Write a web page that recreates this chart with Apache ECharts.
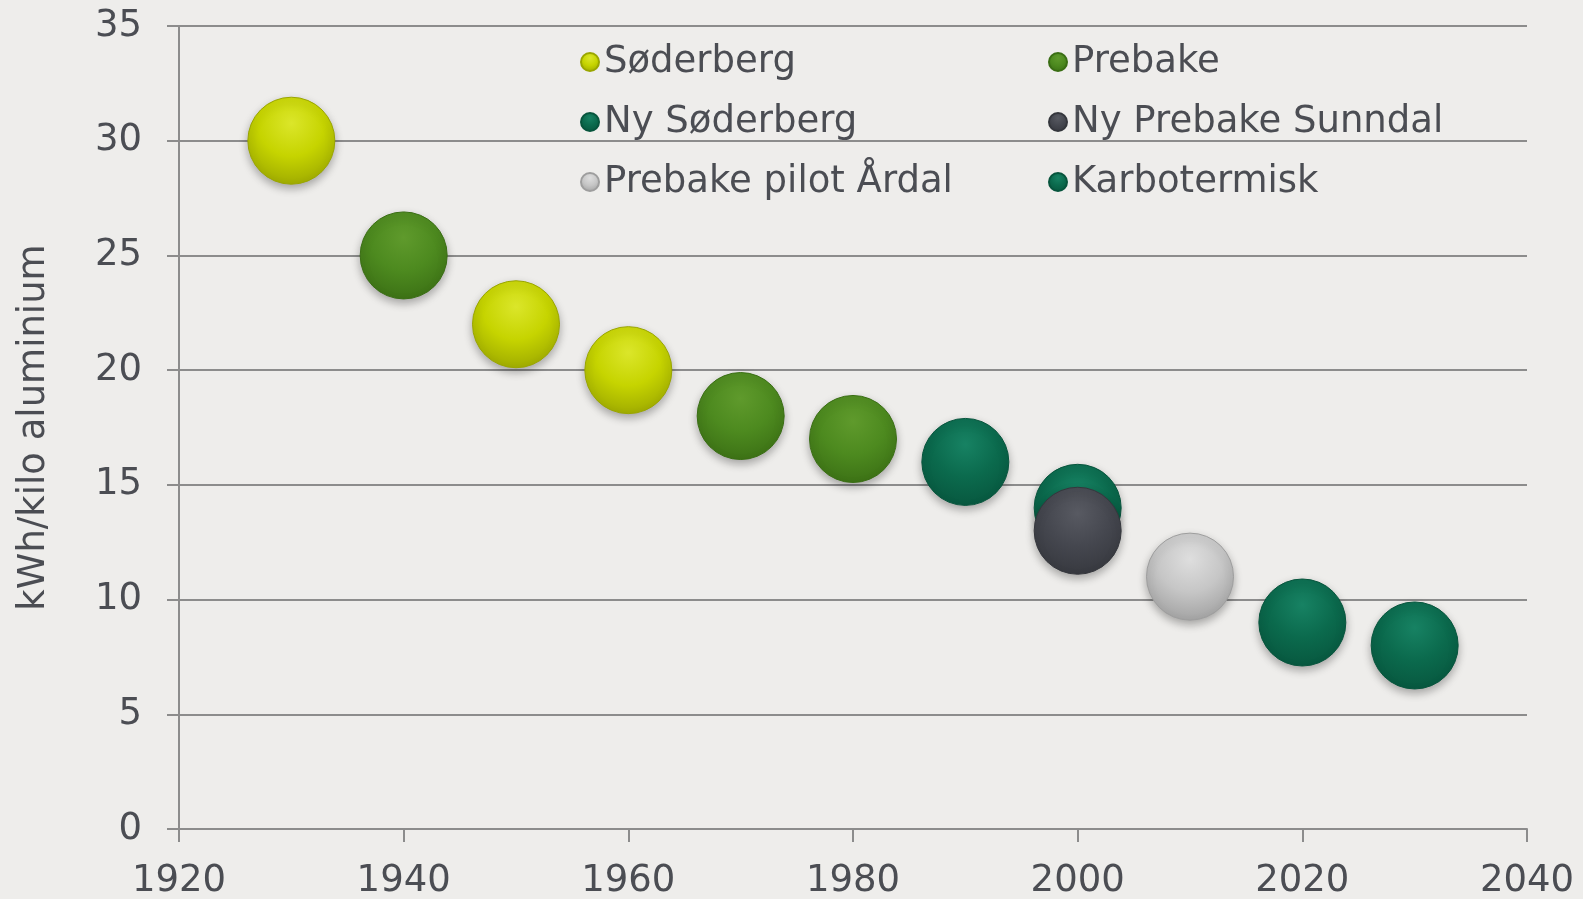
<!DOCTYPE html>
<html>
<head>
<meta charset="utf-8">
<script src="https://cdn.jsdelivr.net/npm/echarts@6/dist/echarts.min.js"></script>
<style>
html, body { margin: 0; padding: 0; background: #eeedeb; }
#chart { width: 1583px; height: 899px; }
</style>
</head>
<body>
<div id="chart"></div>
<script>
// data
const seriesNames = ['Søderberg', 'Prebake', 'Ny Søderberg', 'Ny Prebake Sunndal', 'Prebake pilot Årdal', 'Karbotermisk'];
const soderberg = [[1930, 30], [1950, 22], [1960, 20]];
const prebake = [[1940, 25], [1970, 18], [1980, 17]];
const nySoderberg = [[1990, 16], [2000, 14]];
const nyPrebakeSunndal = [[2000, 13]];
const prebakePilot = [[2010, 11]];
const karbotermisk = [[2020, 9], [2030, 8]];
const yName = 'kWh/kilo aluminium';

// [light, base, dark] per series
const palette = [
    ['#dbe62a', '#c6d400', '#9aa600'],
    ['#5f9a2c', '#4d8a1f', '#3a6e14'],
    ['#178263', '#0b6a4d', '#07553d'],
    ['#585a62', '#45474f', '#35373d'],
    ['#dedede', '#c6c6c6', '#9e9e9e'],
    ['#178263', '#0b6a4d', '#07553d']
];

function ball(c) {
    return {
        type: 'radial', x: 0.5, y: 0.3, r: 0.75,
        colorStops: [
            {offset: 0, color: c[0]},
            {offset: 0.5, color: c[1]},
            {offset: 1, color: c[2]}
        ]
    };
}

const allData = [soderberg, prebake, nySoderberg, nyPrebakeSunndal, prebakePilot, karbotermisk];
const font = 'DejaVu Sans, Verdana, sans-serif';
const textColor = '#4b4d53';

const myChart = echarts.init(document.getElementById('chart'));
const legendText = {fontSize: 37, color: textColor, fontFamily: font, lineHeight: 40, padding: [0, 0, 0, 0]};
const option = {
    backgroundColor: '#eeedeb',
    animation: false,
    textStyle: {fontFamily: font},
    grid: {left: 179, right: 56, top: 26, bottom: 70, containLabel: false, outerBoundsMode: 'none'},
    legend: [
        {
            data: [seriesNames[0], seriesNames[2], seriesNames[4]],
            orient: 'vertical',
            left: 575, top: 37,
            icon: 'circle', itemWidth: 18, itemHeight: 18, itemGap: 20,
            textStyle: legendText
        },
        {
            data: [seriesNames[1], seriesNames[3], seriesNames[5]],
            orient: 'vertical',
            left: 1043, top: 37,
            icon: 'circle', itemWidth: 18, itemHeight: 18, itemGap: 20,
            textStyle: legendText
        }
    ],
    xAxis: {
        type: 'value',
        min: 1920, max: 2040, interval: 20,
        axisLine: {show: true, onZero: false, lineStyle: {color: '#8c8c8c', width: 2}},
        axisTick: {show: true, length: 13, lineStyle: {color: '#8c8c8c', width: 2}},
        axisLabel: {fontSize: 37, color: textColor, margin: 34, fontFamily: font, formatter: function (v) { return String(v); }},
        splitLine: {show: false}
    },
    yAxis: {
        type: 'value',
        min: 0, max: 35, interval: 5,
        name: yName,
        nameLocation: 'middle',
        nameRotate: 90,
        nameGap: 126,
        nameTextStyle: {fontSize: 37, color: textColor, fontFamily: font},
        axisLine: {show: true, lineStyle: {color: '#8c8c8c', width: 2}},
        axisTick: {show: true, length: 12, lineStyle: {color: '#8c8c8c', width: 2}},
        axisLabel: {fontSize: 37, color: textColor, margin: 37, fontFamily: font},
        splitLine: {show: true, lineStyle: {color: '#8c8c8c', width: 2}}
    },
    series: seriesNames.map(function (name, i) {
        return {
            name: name,
            type: 'scatter',
            data: allData[i],
            symbol: 'circle',
            symbolSize: 87,
            itemStyle: {
                color: ball(palette[i]),
                borderColor: palette[i][2],
                borderWidth: 1,
                shadowBlur: 8,
                shadowOffsetY: 4,
                shadowColor: 'rgba(0,0,0,0.3)',
                opacity: 1
            }
        };
    })
};
myChart.setOption(option);
</script>
</body>
</html>
